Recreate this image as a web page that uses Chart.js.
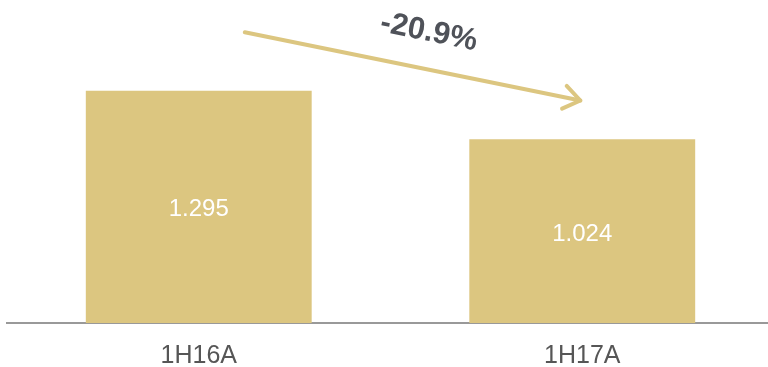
<!DOCTYPE html>
<html>
<head>
<meta charset="utf-8">
<script src="https://cdn.jsdelivr.net/npm/chart.js@4/dist/chart.umd.min.js"></script>
<style>
  html, body { margin: 0; padding: 0; background: #ffffff; overflow: hidden; }
  #wrap { position: relative; width: 776px; height: 367px; }
</style>
</head>
<body>
<div id="wrap"><canvas id="chart" width="776" height="367"></canvas></div>
<script>
// Half-year figures
const periods = ['1H16A', '1H17A'];
const values = [1.295, 1.024];
const valueLabels = ['1.295', '1.024'];

// Trend arrow, in data space (category index, value)
const arrowFrom = { x: 0.12, y: 1.62 };
const arrowTo = { x: 0.995, y: 1.24 };
const changeAnchor = { x: 0.6, y: 1.62 };

const barColor = '#dcc680';
const changePct = (values[1] / values[0] - 1) * 100;
const changeText = changePct.toFixed(1) + '%';

const valueLabelPlugin = {
  id: 'valueLabels',
  afterDatasetsDraw(chart) {
    const ctx = chart.ctx;
    const meta = chart.getDatasetMeta(0);
    ctx.save();
    ctx.fillStyle = '#ffffff';
    ctx.font = '24px "Liberation Sans", Arial, sans-serif';
    ctx.textAlign = 'center';
    ctx.textBaseline = 'middle';
    meta.data.forEach((bar, i) => {
      const y = (bar.y + bar.base) / 2 + 3;
      ctx.fillText(valueLabels[i], bar.x, y);
    });
    ctx.restore();
  }
};

const trendArrowPlugin = {
  id: 'trendArrow',
  afterDatasetsDraw(chart) {
    const ctx = chart.ctx;
    const xs = chart.scales.x, ys = chart.scales.y;
    const x0 = xs.getPixelForValue(arrowFrom.x), y0 = ys.getPixelForValue(arrowFrom.y);
    const x1 = xs.getPixelForValue(arrowTo.x), y1 = ys.getPixelForValue(arrowTo.y);
    const ang = Math.atan2(y1 - y0, x1 - x0);
    ctx.save();
    ctx.strokeStyle = barColor;
    ctx.lineWidth = 4;
    ctx.lineCap = 'round';
    ctx.lineJoin = 'round';
    ctx.beginPath();
    ctx.moveTo(x0, y0);
    ctx.lineTo(x1, y1);
    ctx.stroke();
    const head = 20, spread = 0.62;
    ctx.beginPath();
    ctx.moveTo(x1 - head * Math.cos(ang - spread), y1 - head * Math.sin(ang - spread));
    ctx.lineTo(x1, y1);
    ctx.lineTo(x1 - head * Math.cos(ang + spread), y1 - head * Math.sin(ang + spread));
    ctx.stroke();

    const tx = xs.getPixelForValue(changeAnchor.x), ty = ys.getPixelForValue(changeAnchor.y);
    ctx.translate(tx, ty);
    ctx.rotate(ang);
    ctx.fillStyle = '#4f5259';
    ctx.font = 'bold 31px "Liberation Sans", Arial, sans-serif';
    ctx.textAlign = 'center';
    ctx.textBaseline = 'middle';
    ctx.fillText(changeText, 0, 0);
    ctx.restore();
  }
};

new Chart(document.getElementById('chart'), {
  type: 'bar',
  data: {
    labels: periods,
    datasets: [{
      data: values,
      backgroundColor: barColor,
      borderWidth: 0,
      categoryPercentage: 1.0,
      barPercentage: 0.589
    }]
  },
  options: {
    responsive: false,
    maintainAspectRatio: false,
    animation: false,
    layout: { padding: { top: 9, left: 7, right: 2, bottom: 0 } },
    plugins: {
      legend: { display: false },
      tooltip: { enabled: false }
    },
    scales: {
      x: {
        grid: { display: false, drawTicks: false },
        border: { display: true, color: '#999999', width: 2 },
        ticks: {
          color: '#565656',
          font: { family: '"Liberation Sans", Arial, sans-serif', size: 25 },
          padding: 18
        },
        afterFit(scale) { scale.height = 44; }
      },
      y: {
        display: false,
        min: 0,
        max: 1.75
      }
    }
  },
  plugins: [valueLabelPlugin, trendArrowPlugin]
});
</script>
</body>
</html>
